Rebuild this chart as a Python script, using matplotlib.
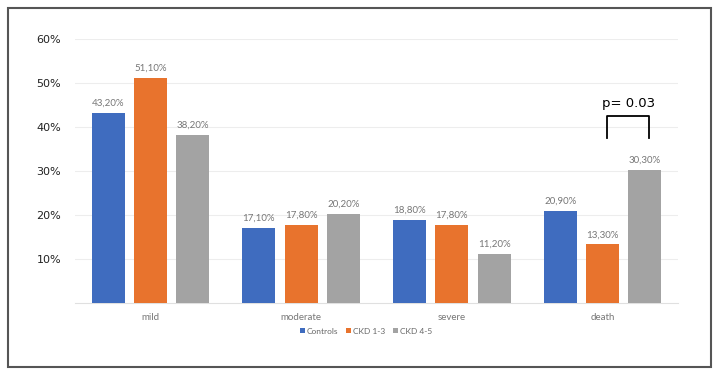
import matplotlib
matplotlib.use("Agg")
import matplotlib.pyplot as plt
import numpy as np
from matplotlib.patches import Rectangle

categories = ["mild", "moderate", "severe", "death"]
series_names = ["Controls", "CKD 1-3", "CKD 4-5"]
controls = [43.2, 17.1, 18.8, 20.9]
ckd13 = [51.1, 17.8, 17.8, 13.3]
ckd45 = [38.2, 20.2, 11.2, 30.3]
yticks = [10, 20, 30, 40, 50, 60]
colors = ["#3F6CBF", "#E8732D", "#A3A3A3"]

small = ["Lato", "DejaVu Sans"]

fig = plt.figure(figsize=(7.2, 3.76), dpi=100)
ax = fig.add_axes([75/720, 1-303/376, (678-75)/720, (303-39)/376])

x = np.arange(len(categories))
width = 0.22
offsets = [-0.28, 0.0, 0.28]
for vals, off, col, name in zip([controls, ckd13, ckd45], offsets, colors, series_names):
    bars = ax.bar(x + off, vals, width, color=col, label=name, zorder=3)
    for b, v in zip(bars, vals):
        ax.text(b.get_x() + b.get_width()/2, v + 1.2, f"{v:.2f}".replace(".", ",") + "%",
                ha="center", va="bottom", fontsize=7, color="#777777", family=small)

ax.set_xlim(-0.5, 3.5)
ax.set_ylim(0, 60)
ax.set_yticks(yticks)
ax.set_yticklabels([f"{t}%" for t in yticks], fontsize=8, color="#222222")
ax.set_xticks(x)
ax.set_xticklabels(categories, fontsize=7, color="#777777", family=small)
ax.tick_params(axis="both", length=0)
ax.tick_params(axis="y", pad=10)
ax.tick_params(axis="x", pad=7)
ax.grid(axis="y", color="#EDEDED", linewidth=0.8, zorder=0)
for s in ["top", "right", "left"]:
    ax.spines[s].set_visible(False)
ax.spines["bottom"].set_color("#E0E0E0")

# significance bracket
bx0, bx1 = 3.03, 3.31
ax.plot([bx0, bx0, bx1, bx1], [37.5, 42.5, 42.5, 37.5], color="black", linewidth=1.3, zorder=4)
ax.text((bx0 + bx1)/2, 43.8, "p= 0.03", ha="center", va="bottom", fontsize=9.5, color="black")

leg = fig.legend(loc="center", bbox_to_anchor=(366/720, 1-331/376), ncol=3, frameon=False,
                 prop={"family": small, "size": 6}, handlelength=0.6, handleheight=0.6,
                 handletextpad=0.25, columnspacing=0.9)
for t in leg.get_texts():
    t.set_color("#666666")

fig.patches.append(Rectangle((8/720, 1-367/376), (711-8)/720, (367-8)/376,
                             transform=fig.transFigure, fill=False,
                             edgecolor="#555555", linewidth=1.5))

fig.savefig("out.png", dpi=100)
